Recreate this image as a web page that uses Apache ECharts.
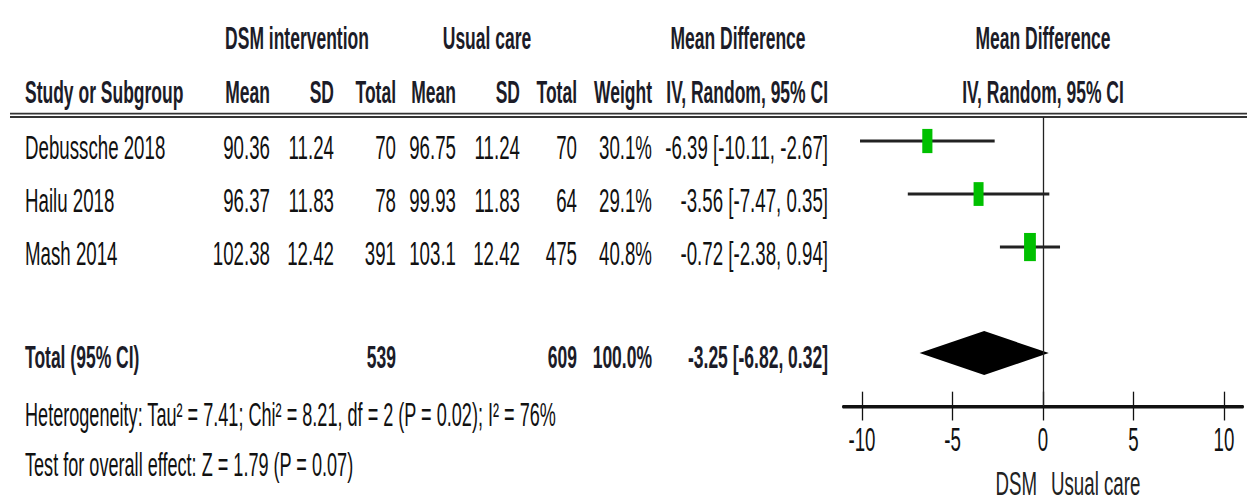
<!DOCTYPE html>
<html><head><meta charset="utf-8">
<script src="https://cdn.jsdelivr.net/npm/echarts@6/dist/echarts.min.js"></script>
<style>
html,body{margin:0;padding:0;background:#fff;overflow:hidden}
#wrap{width:1247px;height:502px;overflow:hidden;position:relative}
#chart{width:1247px;height:279px;transform:scaleY(1.8);transform-origin:0 0}
</style></head><body>
<div id="wrap"><div id="chart"></div></div>
<script>
// ---- data ----
const studies = ['Debussche 2018', 'Hailu 2018', 'Mash 2014'];
const dsmMean = [90.36, 96.37, 102.38];
const dsmSD = [11.24, 11.83, 12.42];
const dsmTotal = [70, 78, 391];
const ucMean = [96.75, 99.93, 103.1];
const ucSD = [11.24, 11.83, 12.42];
const ucTotal = [70, 64, 475];
const weights = [30.1, 29.1, 40.8];
const md = [-6.39, -3.56, -0.72];
const ciLow = [-10.11, -7.47, -2.38];
const ciHigh = [-2.67, 0.35, 0.94];
const totalLabel = 'Total (95% CI)';
const totalDsm = [539];
const totalUc = [609];
const totalWeight = [100.0];
const totalMd = [-3.25];
const totalLow = [-6.82];
const totalHigh = [0.32];
const heterogeneityText = 'Heterogeneity: Tau\u00b2 = 7.41; Chi\u00b2 = 8.21, df = 2 (P = 0.02); I\u00b2 = 76%';
const overallText = 'Test for overall effect: Z = 1.79 (P = 0.07)';
const tickValues = [-10, -5, 0, 5, 10];
const favoursLeft = 'DSM';
const favoursRight = 'Usual care';
const groupHeaders = ['DSM intervention', 'Usual care', 'Mean Difference', 'Mean Difference'];
const colHeaders = ['Study or Subgroup', 'Mean', 'SD', 'Total', 'Mean', 'SD', 'Total', 'Weight', 'IV, Random, 95% CI', 'IV, Random, 95% CI'];

// ---- layout ----
const FONT = '"Liberation Sans", Arial, sans-serif';
const FS = 18.7;      // regular text
const FSB = 17.5;     // bold text
const FSN = 18.1;     // footnotes
const colRight = [270, 334, 396, 456, 520, 577, 652, 828];
const totalRow = studies.length + 1;

const chart = echarts.init(document.getElementById('chart'), null, {renderer: 'svg'});

const studyData = studies.map((s, i) => [ciLow[i], ciHigh[i], md[i], i, weights[i]]);
const totalData = [[totalLow[0], totalHigh[0], totalMd[0], totalRow]];

const xBase = {type: 'value', min: -11.05, max: 11.05, gridIndex: 0, position: 'bottom', splitLine: {show: false}};

chart.setOption({
  animation: false,
  grid: {left: 843, right: 4, top: 65, bottom: 53.4, containLabel: false},
  xAxis: [
    Object.assign({}, xBase, {
      axisLine: {show: true, onZero: false, lineStyle: {color: '#111', width: 2}},
      axisTick: {show: true, customValues: tickValues, length: 8, lineStyle: {color: '#111', width: 1.3}},
      axisLabel: {show: true, customValues: tickValues, fontSize: FS, fontFamily: FONT, color: '#111', margin: 9}
    }),
    Object.assign({}, xBase, {
      axisLine: {show: false, onZero: false},
      axisTick: {show: true, inside: true, customValues: tickValues, length: 8, lineStyle: {color: '#111', width: 1.3}},
      axisLabel: {show: false}
    })
  ],
  yAxis: {type: 'value', inverse: true, min: -0.453, max: 5.0, show: false},
  series: [
    {
      type: 'custom',
      name: 'studies',
      data: studyData,
      encode: {x: [0, 1, 2], y: 3},
      renderItem: function (params, api) {
        const row = api.value(3);
        const lo = api.coord([api.value(0), row]);
        const hi = api.coord([api.value(1), row]);
        const c = api.coord([api.value(2), row]);
        const s = Math.sqrt(api.value(4));
        const bw = 1.85 * s, bh = 2.45 * s;
        return {type: 'group', children: [
          {type: 'line', shape: {x1: lo[0], y1: lo[1], x2: hi[0], y2: hi[1]}, style: {stroke: '#222', lineWidth: 1.7}},
          {type: 'rect', shape: {x: c[0] - bw / 2, y: c[1] - bh / 2, width: bw, height: bh}, style: {fill: '#00C000'}}
        ]};
      },
      markLine: {
        silent: true, symbol: ['none', 'none'], label: {show: false},
        lineStyle: {color: '#222', width: 1.3, type: 'solid'},
        data: [{xAxis: 0}]
      },
      z: 3
    },
    {
      type: 'custom',
      name: 'total',
      data: totalData,
      encode: {x: [0, 1, 2], y: 3},
      renderItem: function (params, api) {
        const row = api.value(3);
        const lo = api.coord([api.value(0), row]);
        const hi = api.coord([api.value(1), row]);
        const c = api.coord([api.value(2), row]);
        const h = 12.2;
        return {type: 'polygon', shape: {points: [[lo[0], lo[1]], [c[0], c[1] - h], [hi[0], hi[1]], [c[0], c[1] + h]]}, style: {fill: '#000'}};
      },
      z: 4
    }
  ]
});

function txt(str, x, y, align, bold, color, size) {
  return {type: 'text', x: x, y: y, silent: true, z: 10,
    style: {text: String(str), fill: color || (bold ? '#1c1c28' : '#111'), fontSize: size || (bold ? FSB : FS), fontFamily: FONT,
      fontWeight: bold ? 'bold' : 'normal', align: align, verticalAlign: 'middle'}};
}
function fmtCI(m, l, h) { return m.toFixed(2) + ' [' + l.toFixed(2) + ', ' + h.toFixed(2) + ']'; }

const rowY = r => chart.convertToPixel({yAxisIndex: 0}, r) + 3.2;
const zeroX = chart.convertToPixel({xAxisIndex: 0}, 0);

const g = [];
// top rule (double line)
g.push({type: 'line', silent: true, shape: {x1: 10, y1: 63.1, x2: 1247, y2: 63.1}, style: {stroke: '#333', lineWidth: 1}});
g.push({type: 'line', silent: true, shape: {x1: 10, y1: 65.0, x2: 1247, y2: 65.0}, style: {stroke: '#333', lineWidth: 1}});
// group headers
const H1 = 21.1, H2 = 51.1;
g.push(txt(groupHeaders[0], 297, H1, 'center', true));
g.push(txt(groupHeaders[1], 487, H1, 'center', true));
g.push(txt(groupHeaders[2], 738, H1, 'center', true));
g.push(txt(groupHeaders[3], zeroX, H1, 'center', true));
// column headers
g.push(txt(colHeaders[0], 25, H2, 'left', true));
for (let k = 1; k <= 8; k++) g.push(txt(colHeaders[k], colRight[k - 1], H2, 'right', true));
g.push(txt(colHeaders[9], zeroX, H2, 'center', true));
// study rows
studies.forEach((s, i) => {
  const y = rowY(i);
  const cells = [dsmMean[i], dsmSD[i], dsmTotal[i], ucMean[i], ucSD[i], ucTotal[i], weights[i].toFixed(1) + '%', fmtCI(md[i], ciLow[i], ciHigh[i])];
  g.push(txt(s, 25, y, 'left', false));
  cells.forEach((c, k) => g.push(txt(c, colRight[k], y, 'right', false)));
});
// total row
const ty = rowY(totalRow) - 1.2;
g.push(txt(totalLabel, 25, ty, 'left', true));
g.push(txt(totalDsm[0], colRight[2], ty, 'right', true));
g.push(txt(totalUc[0], colRight[5], ty, 'right', true));
g.push(txt(totalWeight[0].toFixed(1) + '%', colRight[6], ty, 'right', true));
g.push(txt(fmtCI(totalMd[0], totalLow[0], totalHigh[0]), colRight[7], ty, 'right', true));
// notes
g.push(txt(heterogeneityText, 25, 230.6, 'left', false, null, FSN));
g.push(txt(overallText, 25, 258.3, 'left', false, null, FSN));
// favours labels
g.push(txt(favoursLeft, zeroX - 6, 268.2, 'right', false, '#222'));
g.push(txt(favoursRight, zeroX + 8, 268.2, 'left', false, '#222'));

chart.setOption({graphic: {elements: g}});
</script>
</body></html>
